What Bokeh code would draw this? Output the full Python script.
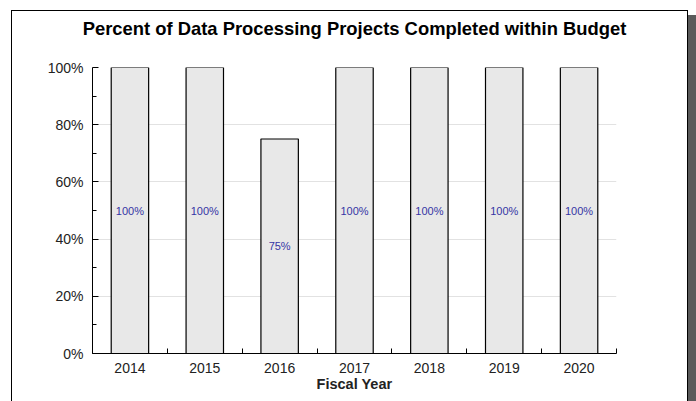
from bokeh.plotting import figure
from bokeh.models import FixedTicker, ColumnDataSource, Range1d, InlineStyleSheet, LinearAxis
from bokeh.core.properties import value
from bokeh.embed import file_html
from bokeh.resources import INLINE

years = [2014, 2015, 2016, 2017, 2018, 2019, 2020]
year_labels = ["2014", "2015", "2016", "2017", "2018", "2019", "2020"]
percent = [100, 100, 75, 100, 100, 100, 100]
value_labels = ["100%", "100%", "75%", "100%", "100%", "100%", "100%"]
y_ticks = [0, 20, 40, 60, 80, 100]
y_tick_labels = ["0%", "20%", "40%", "60%", "80%", "100%"]
y_minor = [10, 30, 50, 70, 90]
title_text = "Percent of Data Processing Projects Completed within Budget"

FONT = "Liberation Sans"

src = ColumnDataSource(dict(
    x=years,
    top=percent,
    mid=[v / 2 for v in percent],
    lab=value_labels,
))

p = figure(width=696, height=401, output_backend="svg", toolbar_location=None,
           x_range=Range1d(years[0] - 0.5, years[-1] + 0.5),
           y_range=Range1d(0, 100),
           min_border_left=92, min_border_right=80,
           min_border_top=67, min_border_bottom=48,
           background_fill_color="white", border_fill_color="white")
p.outline_line_color = None

# chart title, placed as the label of a bare axis above the frame
top_axis = LinearAxis(ticker=FixedTicker(ticks=[]), axis_line_color=None,
                      major_tick_line_color=None, minor_tick_line_color=None,
                      major_tick_in=0, major_tick_out=0,
                      minor_tick_in=0, minor_tick_out=0,
                      major_label_standoff=0,
                      axis_label=title_text,
                      axis_label_standoff=29,
                      axis_label_text_font=FONT,
                      axis_label_text_font_size="18.4px",
                      axis_label_text_font_style="bold",
                      axis_label_text_color="black")
p.add_layout(top_axis, "above")

p.vbar(x="x", top="top", bottom=0, width=0.5, source=src,
       fill_color="#e8e8e8", line_color="black", line_width=1.2)
p.text(x="x", y="mid", text="lab", source=src, text_align="center",
       text_baseline="middle", text_font=value(FONT), text_font_size="11px",
       text_color="#3535a5")

# grid
p.xgrid.visible = False
p.ygrid.ticker = FixedTicker(ticks=y_ticks[1:])
p.ygrid.grid_line_color = "#e2e2e2"
p.ygrid.grid_line_width = 1

# x axis
xa = p.below[0]
xa.ticker = FixedTicker(ticks=years, minor_ticks=[y + 0.5 for y in [years[0] - 1] + years])
xa.major_label_overrides = {y: l for y, l in zip(years, year_labels)}
xa.major_tick_in = 0
xa.major_tick_out = 0
xa.minor_tick_in = 5
xa.minor_tick_out = 0
xa.minor_tick_line_color = "black"
xa.axis_line_color = "black"
xa.major_label_standoff = 9
xa.major_label_text_font = FONT
xa.major_label_text_font_size = "14px"
xa.major_label_text_color = "#222222"
xa.axis_label = "Fiscal Year"
xa.axis_label_text_font = FONT
xa.axis_label_text_font_size = "14.5px"
xa.axis_label_text_font_style = "bold"
xa.axis_label_text_color = "#222222"
xa.axis_label_standoff = 0

# y axis
ya = p.left[0]
ya.ticker = FixedTicker(ticks=y_ticks, minor_ticks=y_minor)
ya.major_label_overrides = {t: l for t, l in zip(y_ticks, y_tick_labels)}
ya.major_tick_in = 6
ya.major_tick_out = 0
ya.minor_tick_in = 4
ya.minor_tick_out = 0
ya.major_tick_line_color = "black"
ya.minor_tick_line_color = "black"
ya.axis_line_color = "black"
ya.major_label_standoff = 9
ya.major_label_text_font = FONT
ya.major_label_text_font_size = "14px"
ya.major_label_text_color = "#222222"

# page frame and drop shadow, drawn over the canvas with CSS
frame_css = InlineStyleSheet(css="""
:host { position: relative; }
:host::before {
  content: ""; position: absolute; left: 688px; top: 15px;
  width: 8px; height: 386px; background: #5a5a5a;
  z-index: 100; pointer-events: none;
}
:host::after {
  content: ""; position: absolute; left: 11px; top: 10px;
  width: 677px; height: 391px; box-sizing: border-box;
  border: 1.5px solid black; border-bottom: none;
  z-index: 100; pointer-events: none;
}
""")
p.stylesheets = [frame_css]

open("out.html", "w").write(file_html(p, INLINE))
